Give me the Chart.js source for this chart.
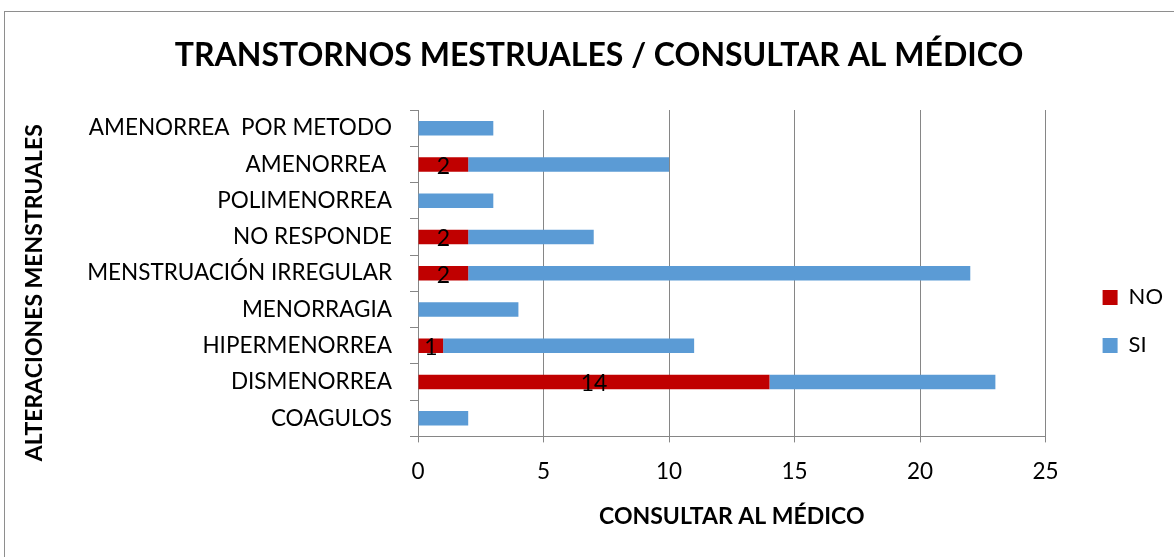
<!DOCTYPE html>
<html>
<head>
<meta charset="utf-8">
<title>Transtornos mestruales / consultar al médico</title>
<script src="https://cdn.jsdelivr.net/npm/chart.js@4.4.1/dist/chart.umd.min.js"></script>
<style>
  html, body { margin: 0; padding: 0; background: #fff; overflow: hidden; }
  #frame { position: absolute; left: 4px; top: 11px; width: 1200px; height: 600px; border: 1px solid #8e8e8e; }
  #chartCanvas { position: absolute; left: 0; top: 0; }
</style>
</head>
<body>
<div id="frame"></div>
<canvas id="chartCanvas" width="1174" height="557"></canvas>
<script>
const categories = ["AMENORREA  POR METODO", "AMENORREA ", "POLIMENORREA", "NO RESPONDE", "MENSTRUACIÓN IRREGULAR", "MENORRAGIA", "HIPERMENORREA", "DISMENORREA", "COAGULOS"];
const noValues = [0, 2, 0, 2, 2, 0, 1, 14, 0];
const siValues = [3, 8, 3, 5, 20, 4, 10, 9, 2];
const xTicks = [0, 5, 10, 15, 20, 25];

const gridGray = "#868686";
Chart.defaults.font.family = "Lato";
Chart.defaults.color = "#000";

// draws the value inside the red (NO) bars, like the excel data labels
const noLabelsPlugin = {
  id: "noLabels",
  afterDatasetsDraw(chart) {
    const ctx = chart.ctx;
    const meta = chart.getDatasetMeta(0);
    ctx.save();
    ctx.font = "23px Lato";
    ctx.fillStyle = "#000";
    ctx.textAlign = "center";
    ctx.textBaseline = "middle";
    meta.data.forEach((bar, i) => {
      const v = noValues[i];
      if (!v) return;
      const p = bar.getCenterPoint();
      ctx.fillText(String(v), p.x, p.y + 2);
    });
    ctx.restore();
  }
};

new Chart("chartCanvas", {
  type: "bar",
  data: {
    labels: categories,
    datasets: [
      { label: "NO", data: noValues, backgroundColor: "#C00000", barPercentage: 0.4, categoryPercentage: 1.0 },
      { label: "SI", data: siValues, backgroundColor: "#5B9BD5", barPercentage: 0.4, categoryPercentage: 1.0 }
    ]
  },
  options: {
    indexAxis: "y",
    responsive: false,
    animation: false,
    layout: { padding: { left: 25, right: 1, top: 0, bottom: 26.5 } },
    scales: {
      x: {
        stacked: true,
        min: 0,
        max: 25,
        afterBuildTicks: (s) => { s.ticks = xTicks.map(v => ({ value: v })); },
        grid: { color: gridGray, tickLength: 6 },
        border: { color: gridGray },
        ticks: { color: "#000", font: { size: 22.5 }, padding: 16 },
        title: { display: true, text: "CONSULTAR AL MÉDICO", color: "#000", font: { size: 23, weight: "bold" }, padding: { top: 1.5, bottom: 0 } }
      },
      y: {
        stacked: true,
        grid: { drawOnChartArea: false, color: gridGray, tickLength: 8 },
        border: { color: gridGray },
        ticks: { color: "#000", font: { size: 22.5 }, padding: 18, autoSkip: false },
        title: { display: true, text: "ALTERACIONES MENSTRUALES       ", color: "#000", font: { size: 23, weight: "bold" }, padding: { top: -3.8, bottom: 0 } },
        afterFit(scale) { scale.width = 393; }
      },
      yRight: {
        type: "category",
        labels: categories,
        axis: "y",
        position: "right",
        grid: { display: false },
        border: { display: false },
        ticks: { display: false },
        afterFit(scale) { scale.width = 31; }
      }
    },
    plugins: {
      title: {
        display: true,
        text: "TRANSTORNOS MESTRUALES / CONSULTAR AL MÉDICO",
        color: "#000",
        font: { size: 32, weight: "bold" },
        padding: { top: 36, bottom: 35.6 }
      },
      legend: {
        position: "right",
        fullSize: false,
        title: { display: true, text: "", font: { size: 12 }, padding: { top: 0, bottom: 82 } },
        labels: { boxWidth: 15, boxHeight: 15, padding: 26, color: "#000", font: { size: 22 } }
      },
      tooltip: { enabled: false }
    }
  },
  plugins: [noLabelsPlugin]
});
</script>
</body>
</html>
